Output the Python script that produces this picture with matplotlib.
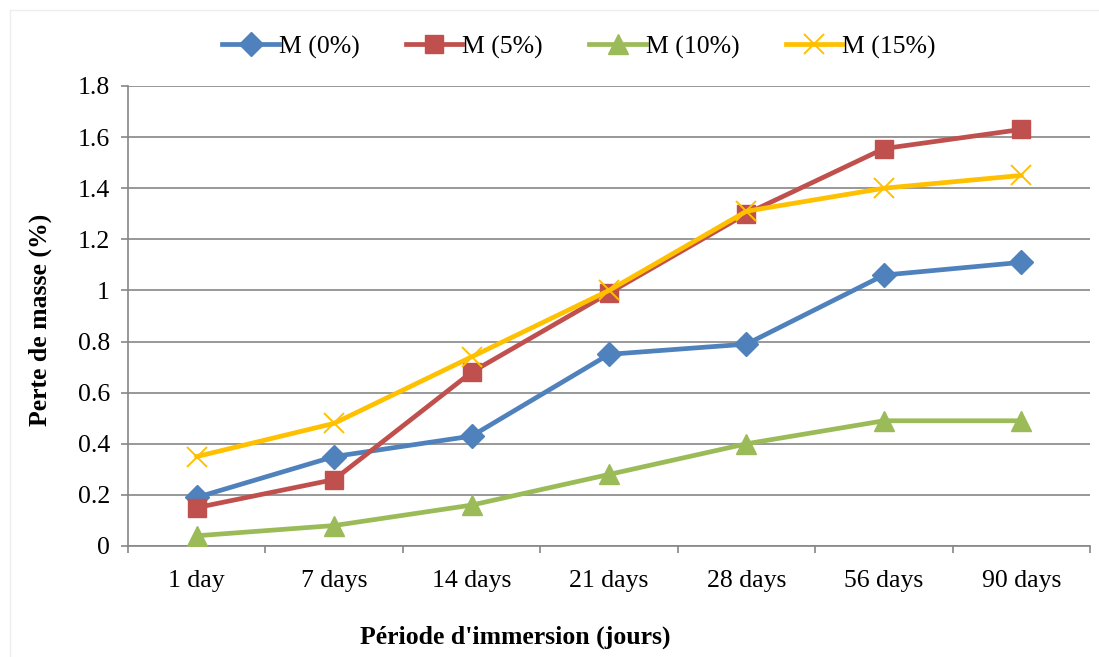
import numpy as np
import matplotlib
matplotlib.use('Agg')
import matplotlib.pyplot as plt
from matplotlib.lines import Line2D

plt.rcParams['font.family'] = ['Liberation Serif', 'DejaVu Serif']

# Mass loss data per immersion period
periodes = ['1 day', '7 days', '14 days', '21 days', '28 days', '56 days', '90 days']
m0 = [0.19, 0.35, 0.43, 0.75, 0.79, 1.06, 1.11]
m5 = [0.15, 0.26, 0.68, 0.99, 1.30, 1.555, 1.63]
m10 = [0.04, 0.08, 0.16, 0.28, 0.40, 0.49, 0.49]
m15 = [0.35, 0.48, 0.74, 1.00, 1.31, 1.40, 1.45]
noms = ['M (0%)', 'M (5%)', 'M (10%)', 'M (15%)']

fs = 18.5

fig = plt.figure(figsize=(10.99, 6.57), dpi=100)
ax = fig.add_axes([128 / 1099, 1 - 546 / 657, (1090 - 128) / 1099, (546 - 86) / 657])

x = np.arange(len(periodes))
styles = [
    (m0, '#4F81BD', 'D', 12.5),
    (m5, '#C0504D', 's', 13),
    (m10, '#9BBB59', '^', 14),
    (m15, '#FFC000', 'x', 14),
]
for (vals, col, mk, ms), nom in zip(styles, noms):
    kw = dict(color=col, lw=3.4, marker=mk, markersize=ms, label=nom, zorder=3)
    if mk == 'x':
        kw['markeredgewidth'] = 1.4
    ax.plot(x, vals, **kw)

ax.set_xlim(-0.5, len(periodes) - 0.5)
ax.set_ylim(0, 1.8)
ax.set_yticks(np.arange(0, 1.81, 0.2))
ax.set_yticklabels(['0', '0.2', '0.4', '0.6', '0.8', '1', '1.2', '1.4', '1.6', '1.8'])
ax.set_xticks(x)
ax.set_xticklabels(periodes)
ax.set_xticks(np.arange(-0.5, len(periodes)), minor=True)

ax.grid(axis='y', color='#868686', lw=1.2)
ax.set_axisbelow(True)
for s in ['top', 'right']:
    ax.spines[s].set_visible(False)
for s in ['left', 'bottom']:
    ax.spines[s].set_color('#868686')
    ax.spines[s].set_linewidth(1.2)

ax.tick_params(axis='y', labelsize=fs, length=5, color='#868686', width=1.2, pad=8)
ax.tick_params(axis='x', which='major', labelsize=fs, length=0, pad=17)
ax.tick_params(axis='x', which='minor', length=5, color='#868686', width=1.2)

fig.text(40 / 1099, 1 - 320 / 657, 'Perte de masse (%)', fontsize=fs,
         fontweight='bold', rotation=90, ha='center', va='center')
fig.text(515 / 1099, 1 - 637 / 657, "Période d'immersion (jours)", fontsize=fs,
         fontweight='bold', ha='center', va='center')

fig.legend(loc='center', bbox_to_anchor=(579 / 1099, 1 - 47 / 657), ncol=4,
           frameon=False, fontsize=fs, handlelength=2.2, columnspacing=1.8,
           handletextpad=0.0)

# light outer frame
fig.add_artist(Line2D([10 / 1099, 10 / 1099], [0, 1 - 10 / 657], color='#eeeeee', lw=1,
                      transform=fig.transFigure))
fig.add_artist(Line2D([10 / 1099, 1], [1 - 10 / 657, 1 - 10 / 657], color='#eeeeee', lw=1,
                      transform=fig.transFigure))

fig.savefig('out.png', dpi=100)
